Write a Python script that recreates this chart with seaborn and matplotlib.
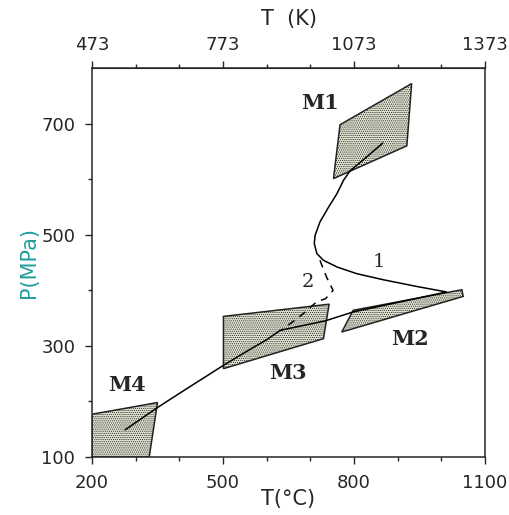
import numpy as np
import pandas as pd
import seaborn as sns
import matplotlib
matplotlib.use("Agg")
import matplotlib.pyplot as plt
from matplotlib.ticker import FixedLocator

# metamorphic stage fields (T in degC, P in MPa)
m1_T = [768, 932, 921, 753]
m1_P = [698, 772, 660, 601]
m2_T = [798, 1047, 1050, 772]
m2_P = [364, 401, 389, 325]
m3_T = [501, 743, 730, 501]
m3_P = [353, 375, 313, 259]
m4_T = [200, 350, 331, 200]
m4_P = [177, 198, 100, 100]

# P-T path 1 (solid)
path1_T = [866, 829, 791, 776, 761, 742, 722, 711, 709, 715, 730, 761, 806, 867, 943, 1012,
           798, 734, 631, 600, 569, 501, 413, 348, 276]
path1_P = [665, 640, 615, 598, 574, 550, 523, 499, 484, 466, 454, 442, 430, 419, 407, 397,
           361, 345, 328, 311, 297, 265, 221, 188, 149]

# P-T path 2 (dashed)
path2_T = [722, 737, 752, 735, 714, 684, 654, 634]
path2_P = [454, 424, 400, 385, 379, 358, 340, 328]

labels = ['M1', 'M2', 'M3', 'M4']
label_T = [722, 928, 649, 280]
label_P = [737, 312, 252, 230]

sns.set_style("ticks")
plt.rcParams['font.family'] = ['DejaVu Sans']
plt.rcParams['hatch.linewidth'] = 0.5

fig = plt.figure(figsize=(5.1, 5.15), dpi=100)
ax = fig.add_axes([0.1804, 0.1126, 0.7706, 0.7553])

fields = [(m1_T, m1_P), (m2_T, m2_P), (m3_T, m3_P), (m4_T, m4_P)]
for ft, fp in fields:
    ax.fill(ft, fp, facecolor='#dfe4d0', edgecolor='#222222', hatch='........', lw=1.1, zorder=1)

df1 = pd.DataFrame({'T': path1_T, 'P': path1_P})
df2 = pd.DataFrame({'T': path2_T, 'P': path2_P})
sns.lineplot(data=df1, x='T', y='P', sort=False, estimator=None, color='black', lw=1.1, ax=ax, zorder=3)
sns.lineplot(data=df2, x='T', y='P', sort=False, estimator=None, color='black', lw=1.1,
             linestyle=(0, (5, 4)), ax=ax, zorder=3)

for lab, t, p in zip(labels, label_T, label_P):
    ax.text(t, p, lab, family='DejaVu Serif', fontweight='bold', fontsize=15, ha='center', va='center')
ax.text(856, 451, '1', family='DejaVu Serif', fontsize=14, ha='center', va='center')
ax.text(695, 415, '2', family='DejaVu Serif', fontsize=14, ha='center', va='center')

ax.set_xlim(200, 1100)
ax.set_ylim(100, 800)
ax.xaxis.set_major_locator(FixedLocator([200, 500, 800, 1100]))
ax.xaxis.set_minor_locator(FixedLocator([300, 400, 600, 700, 900, 1000]))
ax.yaxis.set_major_locator(FixedLocator([100, 300, 500, 700]))
ax.yaxis.set_minor_locator(FixedLocator([200, 400, 600]))
ax.tick_params(which='major', direction='out', length=5, width=1, labelsize=13, pad=7)
ax.tick_params(which='minor', direction='out', length=3, width=1)
ax.tick_params(axis='y', which='both', right=False)
for s in ax.spines.values():
    s.set_visible(True)
    s.set_linewidth(1.1)

ax.set_xlabel('T(°C)', fontsize=15, labelpad=-2)
ax.set_ylabel('P(MPa)', fontsize=15, color='#1f9e9e', labelpad=2)

top = ax.secondary_xaxis('top', functions=(lambda c: c + 273, lambda k: k - 273))
top.xaxis.set_major_locator(FixedLocator([473, 773, 1073, 1373]))
top.xaxis.set_minor_locator(FixedLocator([573, 673, 873, 973, 1173, 1273]))
top.tick_params(which='major', direction='out', length=5, width=1, labelsize=13, pad=5)
top.tick_params(which='minor', direction='out', length=3, width=1)
top.set_xlabel('T  (K)', fontsize=15, labelpad=8)

fig.savefig('out.png', dpi=100)
